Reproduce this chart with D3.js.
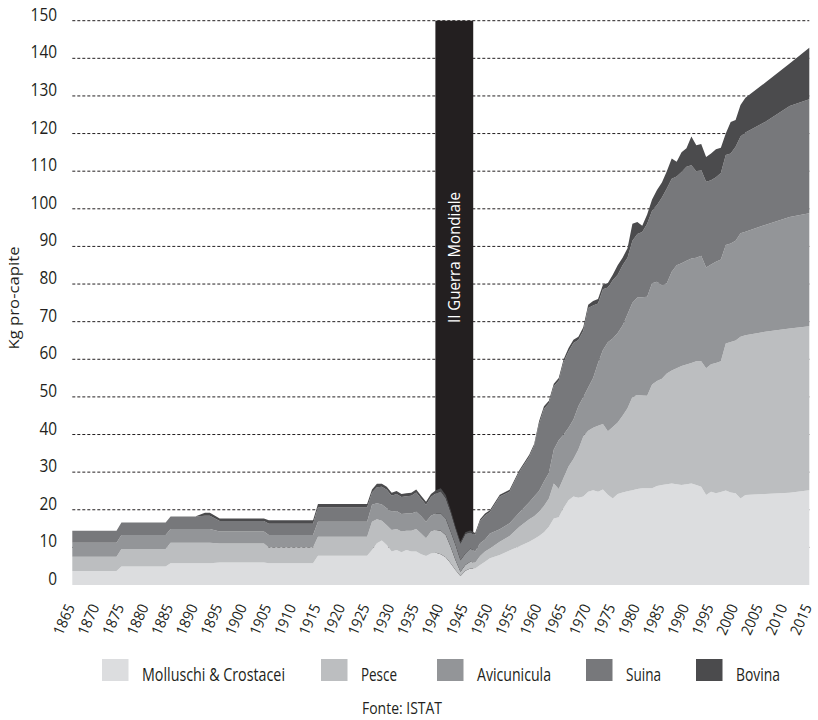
<!DOCTYPE html>
<html><head><meta charset="utf-8">
<script src="https://cdn.jsdelivr.net/npm/d3@7"></script>
<style>body{margin:0;background:#fff} svg{display:block}</style>
</head><body>
<svg id="chart" width="818" height="720"></svg>
<script>
// ---- DATA (Kg pro-capite) ----
const years = [1865,1874,1875,1884,1885,1890,1892,1893,1895,1904,1905,1914,1915,1925,
 1926,1927,1928,1929,1930,1931,1932,1933,1934,1935,1936,1937,1938,1939,1940,1941,1942,1943,1944,1945,1946,1947,1948,1949,1950,
 1952,1954,1956,1958,1959,
 1960,1961,1962,1963,1964,1965,1966,1967,1968,1969,
 1970,1971,1972,1973,1974,1975,1976,1977,1978,1979,
 1980,1981,1982,1983,1984,1985,1986,1987,1988,1989,
 1990,1991,1992,1993,1994,1995,1996,1997,1998,1999,
 2000,2001,2002,2006,2011,2015];

const molluschi = [3.7,3.7,4.9,4.9,5.8,5.8,5.8,5.8,6.0,6.0,5.8,5.8,7.8,7.8,
 9.3,11.1,11.8,10.6,8.9,9.3,8.7,9.3,8.9,8.9,8.2,7.7,8.4,8.6,8.2,7.4,5.8,4.0,2.4,3.8,4.4,4.4,5.3,6.2,7.1,
 8.0,9.2,10.3,11.5,12.2,
 13.0,14.0,15.5,17.7,18.0,20.5,22.5,23.5,23.2,23.5,
 24.8,25.2,24.8,25.4,24.0,23.0,24.2,24.6,24.9,25.2,
 25.5,25.7,25.7,25.7,26.3,26.6,26.8,27.0,26.8,26.6,
 26.8,27.0,26.6,26.1,23.9,24.8,24.4,24.7,25.1,24.6,
 24.4,23.0,23.9,24.2,24.5,25.2];

const pesce = [3.8,3.8,4.7,4.7,5.4,5.4,5.4,5.4,5.0,5.0,4.2,4.2,5.0,5.0,
 7.5,6.4,5.3,5.3,5.7,5.6,5.5,5.1,5.5,6.0,5.5,4.7,5.8,6.0,6.2,5.9,4.4,2.6,1.1,1.5,1.8,1.5,2.4,2.7,2.6,
 3.5,3.8,5.2,6.0,6.1,
 6.5,7.0,7.5,9.3,7.5,8.0,9.0,10.0,12.8,16.0,
 16.2,16.6,17.5,17.4,16.9,19.0,19.0,20.4,22.1,24.8,
 25.0,24.7,24.6,27.6,27.9,28.2,29.4,30.0,30.8,31.6,
 31.8,32.0,32.9,33.4,33.7,33.9,34.6,34.8,39.1,40.0,
 40.6,43.0,42.5,43.1,43.7,43.6];

const avicunicula = [3.7,3.7,3.7,3.7,3.7,3.7,3.7,3.7,3.2,3.2,3.3,3.3,4.0,4.0,
 4.5,4.2,4.3,4.5,4.9,4.8,4.7,4.6,4.6,4.6,4.6,4.4,4.2,4.4,4.6,4.4,4.0,4.0,3.1,3.1,3.5,3.0,3.4,3.2,4.0,
 3.3,3.4,3.8,4.5,5.2,
 5.5,6.5,6.8,9.0,13.0,11.5,10.3,10.5,11.5,10.5,
 11.5,13.2,16.7,19.7,23.6,23.5,23.8,24.0,25.0,25.0,
 25.9,26.1,26.3,26.9,26.4,24.9,24.0,26.3,27.4,27.3,
 27.6,27.8,27.5,28.0,26.8,26.5,26.9,27.0,26.2,26.2,
 26.5,27.5,27.5,28.4,29.6,30.0];

const suina = [3.2,3.2,3.3,3.3,3.3,3.3,3.5,3.5,2.8,2.8,3.0,3.0,3.8,3.8,
 3.3,4.3,4.7,4.9,4.2,4.5,4.5,4.6,4.7,5.1,4.6,4.5,5.0,5.4,5.9,5.4,5.2,4.4,4.4,5.2,4.3,4.4,5.9,6.4,5.7,
 8.7,8.4,10.8,12.1,13.5,
 17.8,19.3,18.5,16.8,15.8,19.3,20.3,20.3,17.6,17.6,
 21.1,19.3,15.8,16.1,14.6,15.5,15.5,16.0,15.0,16.5,
 16.9,17.3,19.4,19.3,20.4,23.3,25.2,24.7,23.6,24.3,
 25.0,24.8,23.0,22.8,22.8,22.4,22.5,23.0,23.9,23.9,
 25.0,25.7,26.4,27.4,29.5,30.3];

const bovina = [0,0,0,0,0,0,0.8,0.8,0.7,0.7,0.9,0.9,0.9,0.9,
 0.8,0.9,0.8,0.8,0.8,0.8,0.8,0.8,0.8,0.8,0.8,0.8,0.8,0.8,0.8,0.8,0.6,0.5,0.5,0.4,0.5,0.5,0.5,0.5,0.5,
 0.5,0.5,0.5,0.5,0.5,
 0.7,0.7,0.7,0.7,0.7,0.7,0.9,0.9,0.9,0.9,
 0.9,1.2,1.2,1.2,1.2,1.5,2.5,2.0,2.5,4.5,
 3.2,1.7,2.5,3.0,4.0,4.0,4.6,5.4,3.9,5.2,
 4.9,7.6,6.9,6.9,6.6,7.1,7.4,6.7,5.7,8.4,
 7.1,8.4,9.2,10.4,11.3,13.7];

const seriesNames = ["Molluschi & Crostacei","Pesce","Avicunicula","Suina","Bovina"];
const seriesColors = ["#dcdddf","#bcbec0","#939598","#77787b","#4b4b4d"];
const yTickValues = [0,10,20,30,40,50,60,70,80,90,100,110,120,130,140,150];
const xTickLabels = [1865,1870,1875,1880,1885,1890,1895,1900,1905,1910,1915,1920,1925,1930,1935,1940,1945,1950,1955,1960,1965,1970,1975,1980,1985,1990,1995,2000,2005,2010,2015];
const warPeriod = [1938.9, 1946.6];
const warLabel = "II Guerra Mondiale";
const yTitle = "Kg pro-capite";
const sourceNote = "Fonte: ISTAT";

// ---- CHART ----
const svg = d3.select("#chart");
const FONT = "'Open Sans', 'Noto Sans', sans-serif";
const x = d3.scaleLinear().domain([1865, 2015]).range([72.3, 809.3]);
const y = d3.scaleLinear().domain([0, 150]).range([585, 20.7]);

const seriesArrays = [molluschi, pesce, avicunicula, suina, bovina];
const rows = years.map((yr, i) => {
  const r = {year: yr};
  seriesNames.forEach((n, k) => r[n] = seriesArrays[k][i]);
  return r;
});
const stacked = d3.stack().keys(seriesNames)(rows);

// gridlines
svg.append("g").selectAll("line").data(yTickValues.filter(d => d > 0)).join("line")
  .attr("x1", x(1865)).attr("x2", x(2015))
  .attr("y1", d => y(d)).attr("y2", d => y(d))
  .attr("stroke", "#231f20").attr("stroke-width", 1)
  .attr("stroke-dasharray", "3,2");

// war bar
svg.append("rect")
  .attr("x", x(warPeriod[0])).attr("width", x(warPeriod[1]) - x(warPeriod[0]))
  .attr("y", y(150)).attr("height", y(0) - y(150))
  .attr("fill", "#231f20");

// areas
const area = d3.area()
  .x(d => x(d.data.year))
  .y0(d => y(d[0])).y1(d => y(d[1]));
svg.append("g").selectAll("path").data(stacked).join("path")
  .attr("d", area)
  .attr("fill", (d, i) => seriesColors[i]);

// war label
const wx = (x(warPeriod[0]) + x(warPeriod[1])) / 2 + 6;
svg.append("text")
  .attr("transform", `translate(${wx},323) rotate(-90)`)
  .attr("fill", "#ffffff").attr("font-family", FONT).attr("font-size", 16)
  .attr("textLength", 131).attr("lengthAdjust", "spacingAndGlyphs")
  .text(warLabel);

// y tick labels
svg.append("g").selectAll("text").data(yTickValues).join("text")
  .attr("x", 57).attr("y", d => y(d))
  .attr("text-anchor", "end")
  .attr("font-family", FONT).attr("font-size", 18).attr("fill", "#231f20")
  .attr("textLength", d => String(d).length * 8.8).attr("lengthAdjust", "spacingAndGlyphs")
  .text(d => d);

// y title
svg.append("text")
  .attr("transform", "translate(19,298) rotate(-90)")
  .attr("text-anchor", "middle")
  .attr("font-family", FONT).attr("font-size", 15).attr("fill", "#231f20")
  .attr("textLength", 103).attr("lengthAdjust", "spacingAndGlyphs")
  .text(yTitle);

// x tick labels
svg.append("g").selectAll("text").data(xTickLabels).join("text")
  .attr("transform", d => `translate(${x(d) + 3},607) rotate(-66)`)
  .attr("text-anchor", "end")
  .attr("font-family", FONT).attr("font-size", 15).attr("fill", "#231f20")
  .attr("textLength", 32).attr("lengthAdjust", "spacingAndGlyphs")
  .text(d => d);

// legend
const legX = [102, 321, 437, 586, 696];
const legW = [143, 36, 74, 35, 44];
const leg = svg.append("g").selectAll("g").data(seriesNames).join("g");
leg.append("rect")
  .attr("x", (d, i) => legX[i]).attr("y", 659)
  .attr("width", 26.5).attr("height", 22)
  .attr("fill", (d, i) => seriesColors[i]);
leg.append("text")
  .attr("x", (d, i) => legX[i] + 40).attr("y", 680.5)
  .attr("font-family", FONT).attr("font-size", 18).attr("fill", "#231f20")
  .attr("textLength", (d, i) => legW[i]).attr("lengthAdjust", "spacingAndGlyphs")
  .text(d => d);

// source
svg.append("text")
  .attr("x", 402).attr("y", 714)
  .attr("text-anchor", "middle")
  .attr("font-family", FONT).attr("font-size", 16).attr("fill", "#231f20")
  .attr("textLength", 80).attr("lengthAdjust", "spacingAndGlyphs")
  .text(sourceNote);
</script>
</body></html>
